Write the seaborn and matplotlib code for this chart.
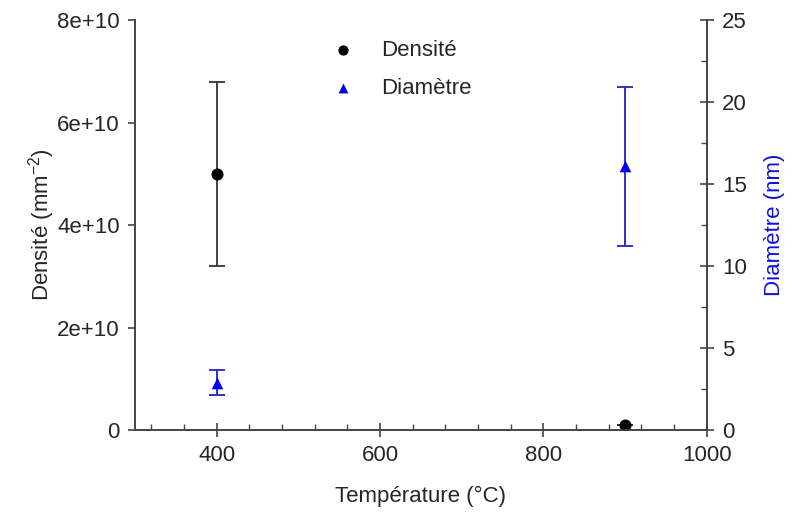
import numpy as np
import pandas as pd
import seaborn as sns
import matplotlib.pyplot as plt
from matplotlib.ticker import MultipleLocator

sns.set_style("ticks")
plt.rcParams['font.family'] = ['Liberation Sans', 'DejaVu Sans']
plt.rcParams['mathtext.default'] = 'regular'

# data
temperature = [400, 900]
densite = [5.0e10, 1.0e9]
densite_err = [1.8e10, 0]
diametre = [2.9, 16.1]
diametre_err = [0.75, 4.85]

df = pd.DataFrame({"Temperature": temperature, "Densite": densite,
                   "Diametre": diametre})

fig = plt.figure(figsize=(7.95, 5.17), dpi=100)
ax = fig.add_axes([0.170, 0.168, 0.719, 0.793])
ax2 = ax.twinx()

ax.errorbar(temperature, densite, yerr=densite_err, fmt='none', ecolor='#333333',
            elinewidth=1.3, capsize=6, capthick=1.3)
sns.scatterplot(data=df, x="Temperature", y="Densite", ax=ax, color='black',
                marker='o', s=75, edgecolor='black', linewidth=0, zorder=3)

ax2.errorbar(temperature, diametre, yerr=diametre_err, fmt='none', ecolor='#1f1fd6',
             elinewidth=1.3, capsize=6, capthick=1.3)
sns.scatterplot(data=df, x="Temperature", y="Diametre", ax=ax2, color='#0000ee',
                marker='^', s=70, edgecolor='#0000ee', linewidth=0, zorder=3)

ax.set_xlim(300, 1000)
ax.set_ylim(0, 8e10)
ax2.set_ylim(0, 25)

ax.set_xticks([400, 600, 800, 1000])
ax.xaxis.set_minor_locator(MultipleLocator(40))
ax.set_yticks([0, 2e10, 4e10, 6e10, 8e10])
ax.set_yticklabels(["0", "2e+10", "4e+10", "6e+10", "8e+10"])
ax2.set_yticks([0, 5, 10, 15, 20, 25])
ax2.yaxis.set_minor_locator(MultipleLocator(2.5))

for a in (ax, ax2):
    for s in a.spines.values():
        s.set_color('#444444')
        s.set_linewidth(1.2)
    a.spines['top'].set_visible(False)

ax.tick_params(axis='x', which='major', direction='inout', length=10, width=1.2,
               color='#444444', labelsize=16, pad=6)
ax.tick_params(axis='x', which='minor', direction='in', length=4, width=1,
               color='#444444')
ax.tick_params(axis='y', which='major', direction='out', length=5, width=1.2,
               color='#444444', labelsize=16, pad=6)
ax2.tick_params(axis='y', which='major', direction='inout', length=10, width=1.2,
                color='#444444', labelsize=16, pad=6)
ax2.tick_params(axis='y', which='minor', direction='in', length=4, width=1,
                color='#444444')

ax.set_xlabel("Température (°C)", fontsize=16, labelpad=14)
ax.set_ylabel("Densité (mm$^{-2}$)", fontsize=16, labelpad=0)
ax2.set_ylabel("Diamètre (nm)", fontsize=16, color='#1010e0', labelpad=12)

h1 = ax.collections[-1]
h2 = ax2.collections[-1]
ax.legend([h1, h2], ["Densité", "Diamètre"], loc='upper left',
          bbox_to_anchor=(0.29, 1.0), frameon=False, fontsize=16,
          handletextpad=0.7, labelspacing=0.75, markerscale=0.85)

fig.savefig("out.png", dpi=100)
